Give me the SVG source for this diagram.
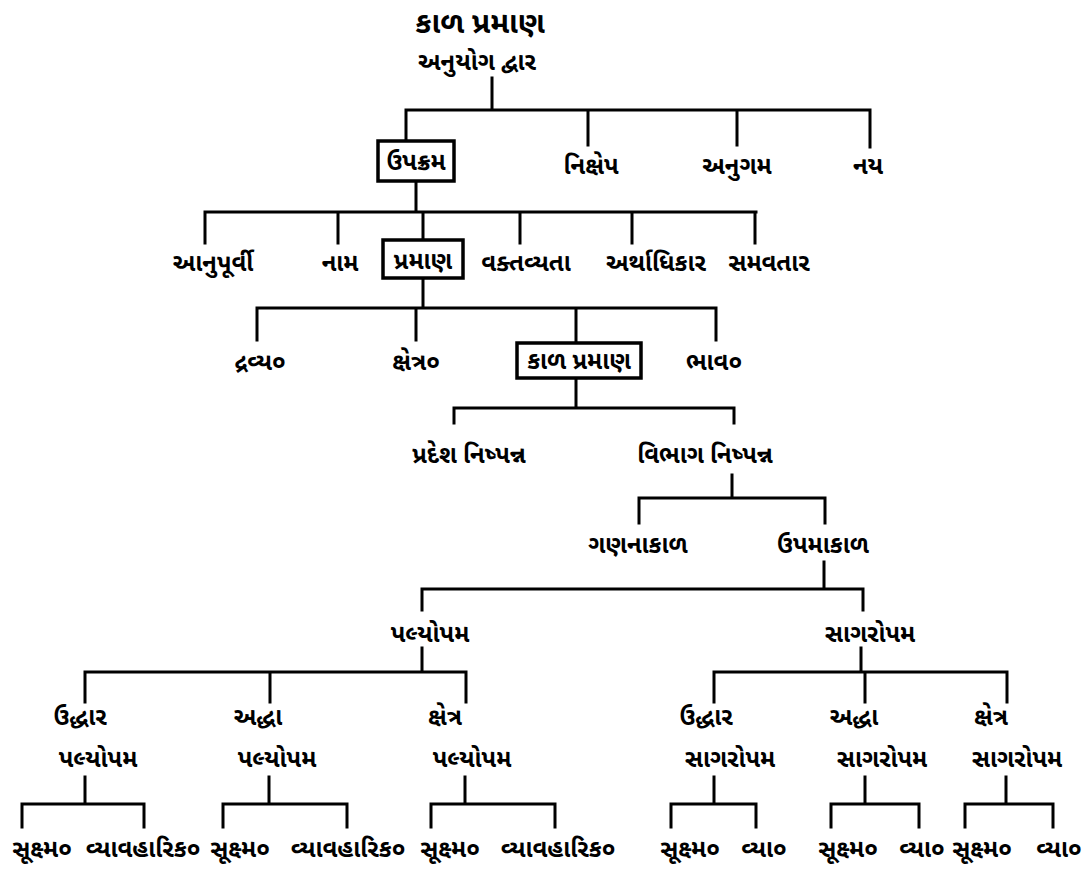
<svg xmlns="http://www.w3.org/2000/svg" width="1082" height="870" viewBox="0 0 1082 870">
<style>
text{font-family:"Noto Sans Gujarati","Lohit Gujarati","Noto Sans","Liberation Sans",sans-serif;font-size:24px;fill:#000;text-anchor:middle;font-weight:bold}
.t{font-size:30px;font-weight:bold}
.b{font-size:24px}
.box{fill:#fff;stroke:#000;stroke-width:3.5}
#connectors path{fill:none;stroke:#000;stroke-width:3;stroke-linecap:square}
</style>
<rect width="1082" height="870" fill="#fff"/>
<g id="connectors">
<path d="M492 78V110M406 110H870M406 110V141M588 110V145M737 110V145M870 110V147"/>
<path d="M416 181V212M205 212H756M205 212V243M338 212V243M423 212V240M520 212V243M632 212V243M755 212V243"/>
<path d="M423 278V308M257 308H716M257 308V340M416 308V340M576 308V343M716 308V340"/>
<path d="M576 378V408M454 408H734M454 408V423M734 408V423"/>
<path d="M732 475V498M639 498H825M639 498V523M825 498V523"/>
<path d="M824 562V589M422 589H863M422 589V610M863 589V610"/>
<path d="M422 648V672M85 672H466M85 672V702M270 672V702M466 672V702"/>
<path d="M861 648V672M714 672H1007M714 672V702M865 672V702M1007 672V702"/>
<path d="M85 777V804M22 804H144M22 804V827M144 804V827"/>
<path d="M269 777V804M223 804H347M223 804V827M347 804V827"/>
<path d="M465 777V804M431 804H555M431 804V827M555 804V827"/>
<path d="M714 777V804M671 804H756M671 804V827M756 804V827"/>
<path d="M865 777V804M831 804H919M831 804V827M919 804V827"/>
<path d="M1006 777V804M965 804H1053M965 804V827M1053 804V827"/>
</g>
<g id="title"><text class="t" x="480" y="33">કાળ પ્રમાણ</text></g>
<g id="n-anuyog"><text x="477" y="70">અનુયોગ દ્વાર</text></g>
<g id="n-upakram"><rect class="box" x="378" y="141" width="76" height="40"/><text class="b" x="416" y="170">ઉપક્રમ</text></g>
<g id="n-nikshep"><text x="591" y="174">નિક્ષેપ</text></g>
<g id="n-anugam"><text x="737" y="174">અનુગમ</text></g>
<g id="n-nay"><text x="868" y="174">નય</text></g>
<g id="n-anupurvi"><text x="213" y="271">આનુપૂર્વી</text></g>
<g id="n-nam"><text x="340" y="271">નામ</text></g>
<g id="n-praman"><rect class="box" x="383" y="240" width="80" height="38"/><text class="b" x="423" y="269">પ્રમાણ</text></g>
<g id="n-vaktavyata"><text x="526" y="271">વક્તવ્યતા</text></g>
<g id="n-arthadhikar"><text x="656" y="271">અર્થાધિકાર</text></g>
<g id="n-samavatar"><text x="769" y="271">સમવતાર</text></g>
<g id="n-dravya"><text x="260" y="370">દ્રવ્ય૦</text></g>
<g id="n-kshetra"><text x="416" y="370">ક્ષેત્ર૦</text></g>
<g id="n-kalpraman"><rect class="box" x="517" y="343" width="124" height="35"/><text class="b" x="579" y="369">કાળ પ્રમાણ</text></g>
<g id="n-bhav"><text x="714" y="370">ભાવ૦</text></g>
<g id="n-pradesh"><text x="469" y="463">પ્રદેશ નિષ્પન્ન</text></g>
<g id="n-vibhag"><text x="705" y="463">વિભાગ નિષ્પન્ન</text></g>
<g id="n-gananakal"><text x="638" y="553">ગણનાકાળ</text></g>
<g id="n-upamakal"><text x="823" y="553">ઉપમાકાળ</text></g>
<g id="n-palyopam"><text x="430" y="642">પલ્યોપમ</text></g>
<g id="n-sagaropam"><text x="870" y="642">સાગરોપમ</text></g>
<g id="n-p-uddhar"><text x="80" y="725">ઉદ્ધાર</text><text x="98" y="767">પલ્યોપમ</text></g>
<g id="n-p-addha"><text x="258" y="725">અદ્ધા</text><text x="277" y="767">પલ્યોપમ</text></g>
<g id="n-p-kshetra"><text x="445" y="725">ક્ષેત્ર</text><text x="472" y="767">પલ્યોપમ</text></g>
<g id="n-s-uddhar"><text x="706" y="725">ઉદ્ધાર</text><text x="730" y="767">સાગરોપમ</text></g>
<g id="n-s-addha"><text x="854" y="725">અદ્ધા</text><text x="882" y="767">સાગરોપમ</text></g>
<g id="n-s-kshetra"><text x="991" y="725">ક્ષેત્ર</text><text x="1017" y="767">સાગરોપમ</text></g>
<g id="leaves">
<text x="42" y="857">સૂક્ષ્મ૦</text><text x="143" y="857">વ્યાવહારિક૦</text>
<text x="240" y="857">સૂક્ષ્મ૦</text><text x="348" y="857">વ્યાવહારિક૦</text>
<text x="450" y="857">સૂક્ષ્મ૦</text><text x="558" y="857">વ્યાવહારિક૦</text>
<text x="690" y="857">સૂક્ષ્મ૦</text><text x="764" y="857">વ્યા૦</text>
<text x="848" y="857">સૂક્ષ્મ૦</text><text x="922" y="857">વ્યા૦</text>
<text x="982" y="857">સૂક્ષ્મ૦</text><text x="1059" y="857">વ્યા૦</text>
</g>
</svg>
